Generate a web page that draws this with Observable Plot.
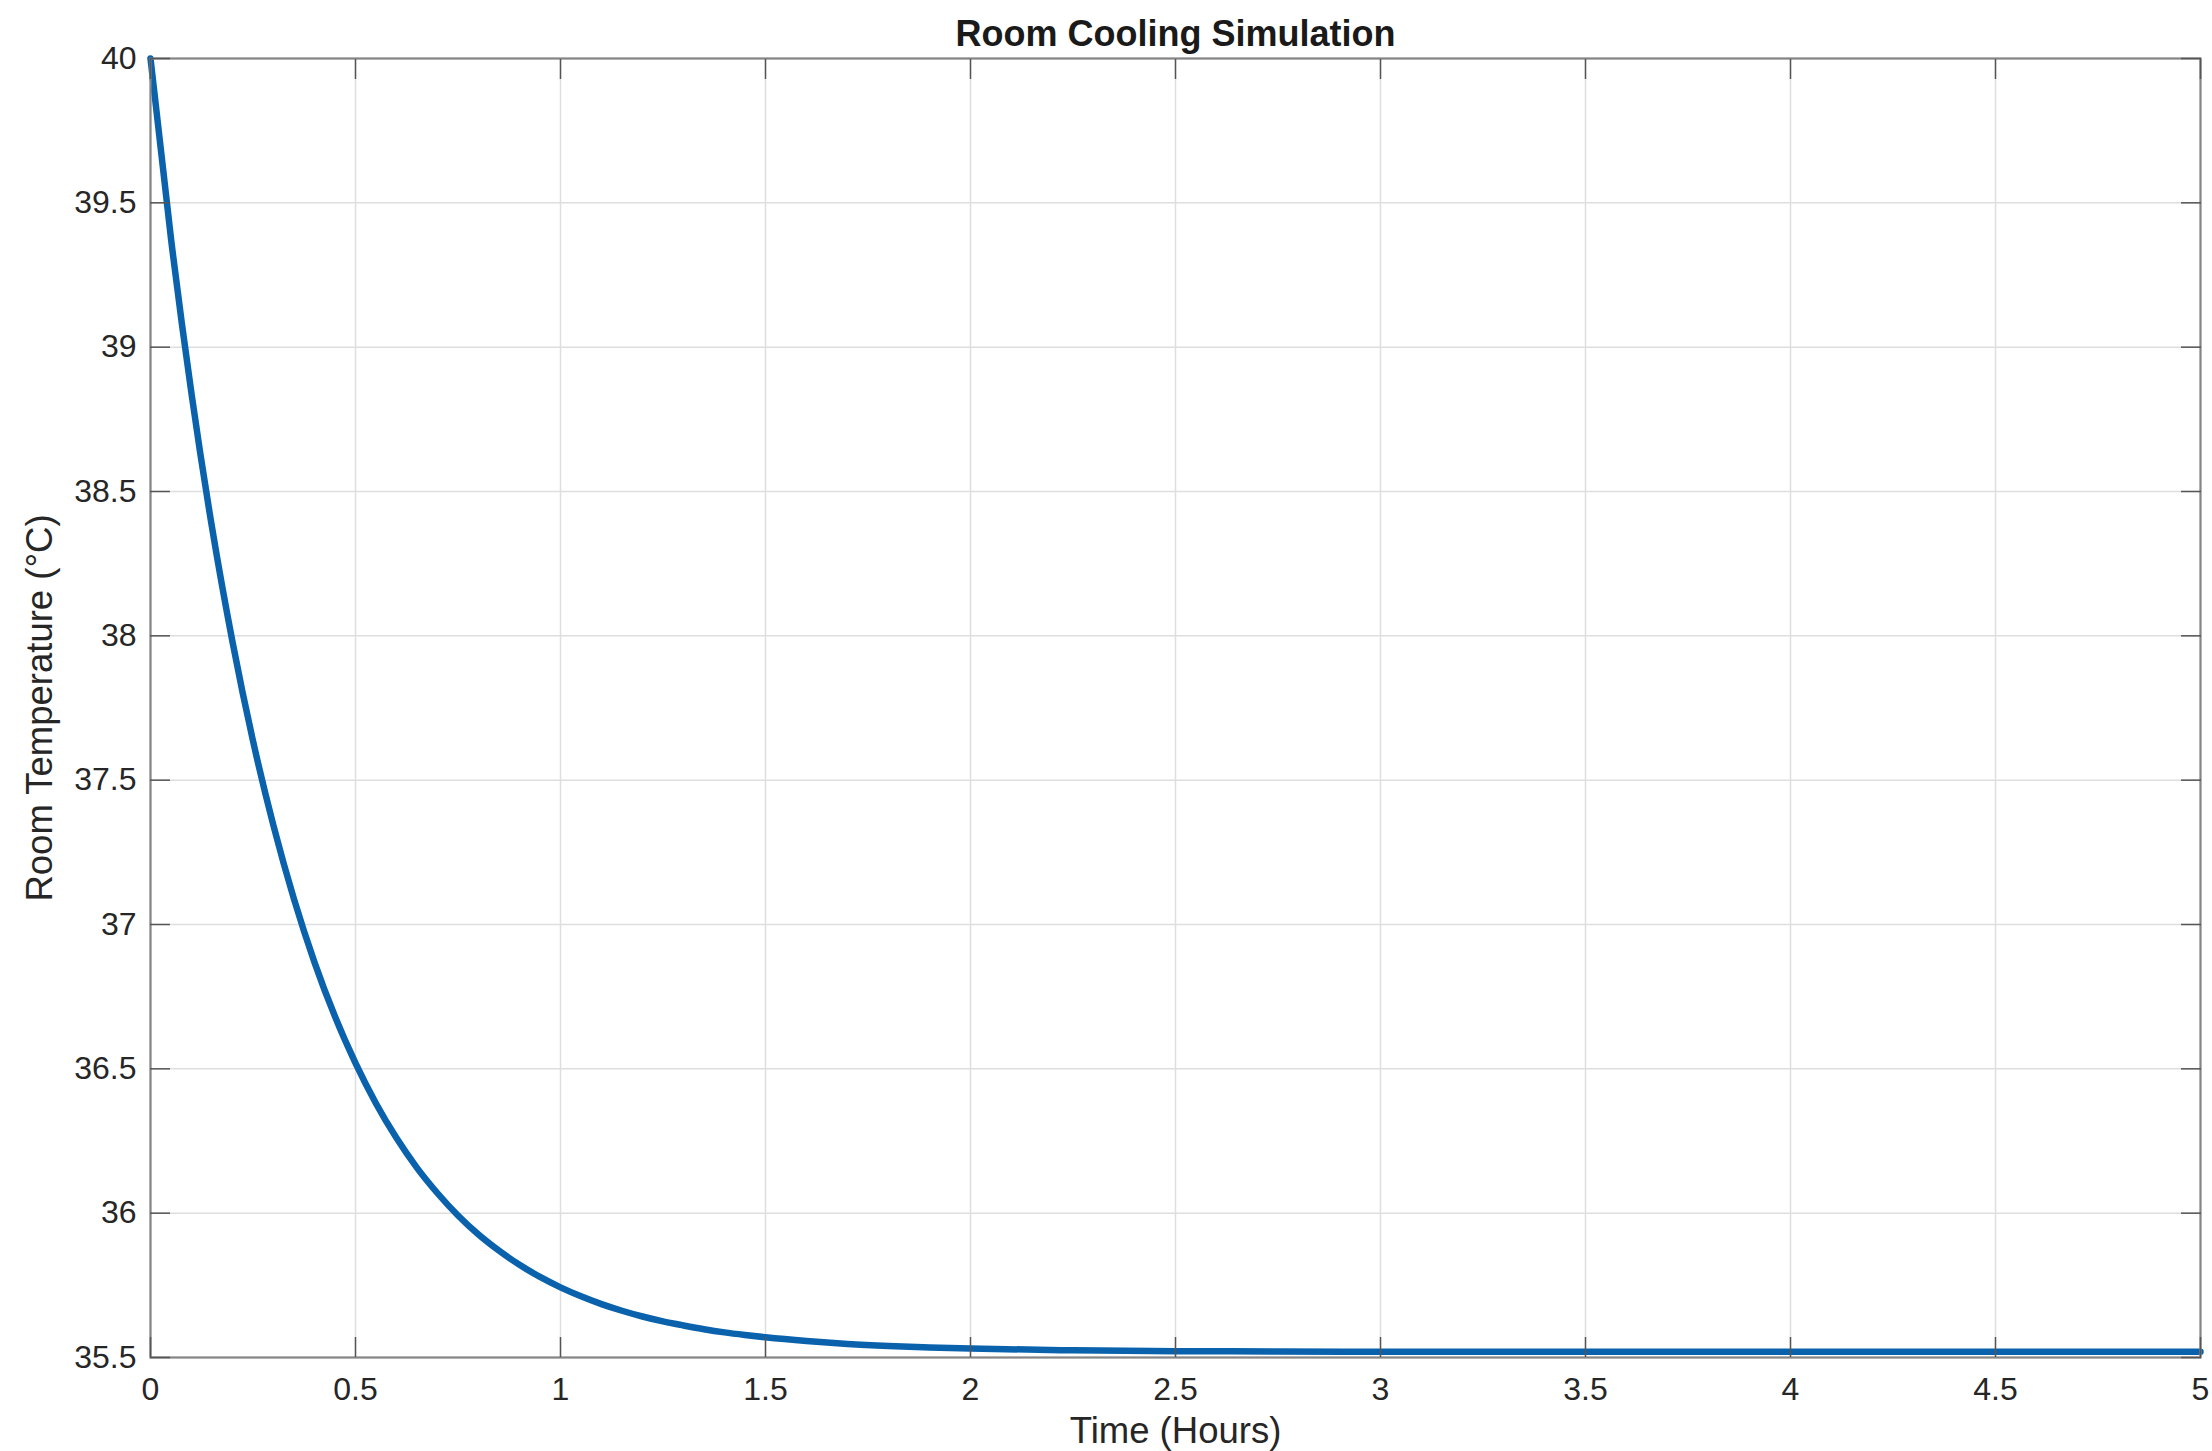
<!DOCTYPE html>
<html>
<head>
<meta charset="utf-8">
<script src="https://cdn.jsdelivr.net/npm/d3@7"></script>
<script src="https://cdn.jsdelivr.net/npm/@observablehq/plot@0.6"></script>
<style>
  html, body { margin: 0; padding: 0; background: #ffffff; }
  #chart svg { display: block; }
</style>
</head>
<body>
<div id="chart"></div>
<script>
const chartTitle = "Room Cooling Simulation";
const xLabel = "Time (Hours)";
const yLabel = "Room Temperature (°C)";

const timeHours = [0, 0.05, 0.1, 0.15, 0.2, 0.25, 0.3, 0.35, 0.4, 0.45, 0.5, 0.55, 0.6, 0.65, 0.7, 0.75, 0.8, 0.85, 0.9, 0.95, 1.0, 1.05, 1.1, 1.15, 1.2, 1.25, 1.3, 1.35, 1.4, 1.45, 1.5, 1.6, 1.7, 1.8, 1.9, 2.0, 2.25, 2.5, 2.75, 3.0, 3.5, 4.0, 4.5, 5.0];
const temperature = [40.000, 39.376, 38.839, 38.376, 37.979, 37.636, 37.342, 37.088, 36.869, 36.681, 36.520, 36.380, 36.260, 36.157, 36.069, 35.992, 35.926, 35.870, 35.821, 35.779, 35.743, 35.712, 35.685, 35.662, 35.642, 35.625, 35.611, 35.598, 35.587, 35.578, 35.570, 35.557, 35.547, 35.540, 35.535, 35.531, 35.525, 35.522, 35.521, 35.520, 35.520, 35.520, 35.520, 35.520];

const xTicks = [0, 0.5, 1, 1.5, 2, 2.5, 3, 3.5, 4, 4.5, 5];
const yTicks = [35.5, 36, 36.5, 37, 37.5, 38, 38.5, 39, 39.5, 40];

const data = timeHours.map((t, i) => ({t, T: temperature[i]}));

const fmt = d => String(d);

const chart = Plot.plot({
  width: 2212,
  height: 1451,
  marginLeft: 150,
  marginRight: 12,
  marginTop: 58,
  marginBottom: 94,
  style: {fontFamily: "'Liberation Sans', Arial, sans-serif", fontSize: "32px", color: "#262626", background: "#ffffff"},
  x: {domain: [0, 5]},
  y: {domain: [35.5, 40]},
  marks: [
    Plot.gridX(xTicks, {stroke: "#dedede", strokeOpacity: 1, strokeWidth: 1.5}),
    Plot.gridY(yTicks, {stroke: "#dedede", strokeOpacity: 1, strokeWidth: 1.5}),
    Plot.line(data, {x: "t", y: "T", stroke: "#0a62ad", strokeWidth: 6.5, curve: "monotone-x"}),
    Plot.frame({stroke: "#858585", strokeWidth: 2.2}),
    Plot.axisX(xTicks, {anchor: "bottom", tickSize: -20, tickPadding: 40, tickFormat: fmt, label: null, stroke: "#555555", strokeWidth: 1.5, fontSize: 32, fill: "#262626"}),
    Plot.axisX(xTicks, {anchor: "top", tickSize: -20, tickFormat: () => "", label: null, stroke: "#555555", strokeWidth: 1.5}),
    Plot.axisY(yTicks, {anchor: "left", tickSize: -20, tickPadding: 34, tickFormat: fmt, label: null, stroke: "#555555", strokeWidth: 1.5, fontSize: 32, fill: "#262626"}),
    Plot.axisY(yTicks, {anchor: "right", tickSize: -20, tickFormat: () => "", label: null, stroke: "#555555", strokeWidth: 1.5}),
    Plot.text([chartTitle], {text: d => d, frameAnchor: "top", lineAnchor: "bottom", dy: -13, fontWeight: "bold", fontSize: 36, fill: "#1a1a1a"}),
    Plot.text([xLabel], {text: d => d, frameAnchor: "bottom", lineAnchor: "bottom", dy: 85, fontSize: 36.5, fill: "#262626"}),
    Plot.text([yLabel], {text: d => d, frameAnchor: "left", textAnchor: "middle", lineAnchor: "middle", rotate: -90, dx: -110, fontSize: 36.5, fill: "#262626"})
  ]
});

document.getElementById("chart").appendChild(chart);
</script>
</body>
</html>
